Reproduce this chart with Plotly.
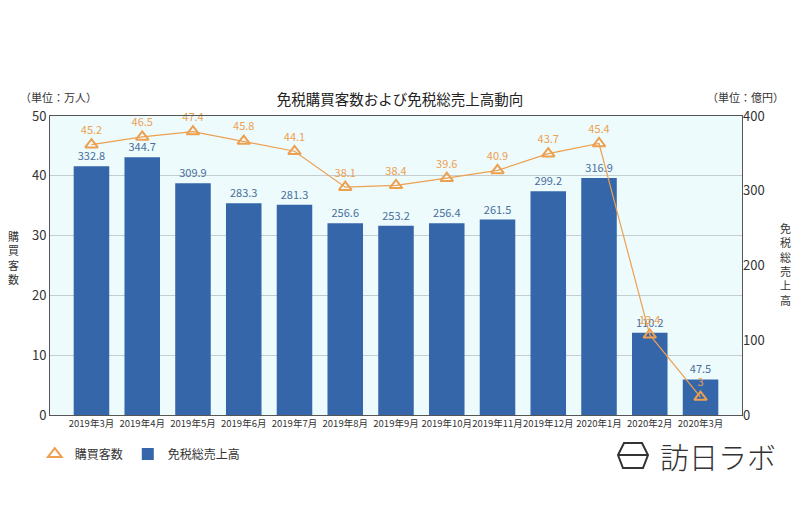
import plotly.graph_objects as go

months = ["2019年3月", "2019年4月", "2019年5月", "2019年6月", "2019年7月", "2019年8月",
          "2019年9月", "2019年10月", "2019年11月", "2019年12月", "2020年1月", "2020年2月", "2020年3月"]
sales = [332.8, 344.7, 309.9, 283.3, 281.3, 256.6, 253.2, 256.4, 261.5, 299.2, 316.9, 110.2, 47.5]
customers = [45.2, 46.5, 47.4, 45.8, 44.1, 38.1, 38.4, 39.6, 40.9, 43.7, 45.4, 13.4, 3]

FONT = "Noto Sans CJK JP, Noto Sans, sans-serif"
BAR = "#3566aa"
ORANGE = "#eda050"

W, H = 800, 522
L, R, T, B = 50, 742, 116, 415


def px(x):
    return (x - L) / (R - L)


def py(y):
    return (B - y) / (B - T)


fig = go.Figure()
# bars on the main (right-hand, 0-400) axis so the line overlay draws above them
fig.add_trace(go.Bar(
    x=months, y=sales, name="免税総売上高", yaxis="y", legendrank=2,
    marker=dict(color=BAR, line=dict(width=0)),
    text=[f"{v:g}" for v in sales], textposition="outside",
    textfont=dict(color="#4a6e9c", size=11), cliponaxis=False,
))
fig.add_trace(go.Scatter(
    x=months, y=customers, name="購買客数", yaxis="y2", mode="lines+markers+text", showlegend=False,
    line=dict(color=ORANGE, width=1.2),
    marker=dict(symbol="triangle-up-open", size=11, color=ORANGE, line=dict(width=2, color=ORANGE)),
    text=[f"{v:g}" for v in customers], textposition="top center",
    textfont=dict(color=ORANGE, size=11), cliponaxis=False,
))
# legend entry (marker only, as in the reference legend)
fig.add_trace(go.Scatter(
    x=[None], y=[None], name="購買客数", yaxis="y2", mode="markers", legendrank=1,
    marker=dict(symbol="triangle-up-open", size=9, color=ORANGE, line=dict(width=2, color=ORANGE)),
))

fig.update_layout(
    width=W, height=H,
    margin=dict(l=L, r=W - R, t=T, b=H - B),
    paper_bgcolor="white", plot_bgcolor="#edfbfd",
    font=dict(family=FONT, color="#333333"),
    bargap=0.3,
    showlegend=True,
    legend=dict(orientation="h", x=-0.022, y=-0.082, xanchor="left", yanchor="top",
                font=dict(size=12, color="#333"), itemsizing="constant"),
    xaxis=dict(showline=True, linecolor="#555", linewidth=1, mirror=True, automargin=False,
               tickangle=0, tickfont=dict(size=9.5, color="#333"), ticks="", showgrid=False),
    yaxis=dict(range=[0, 400], dtick=100, side="right", showgrid=False, showline=False,
               zeroline=False, automargin=False, tickfont=dict(size=13, color="#333")),
    yaxis2=dict(range=[0, 50], dtick=10, overlaying="y", side="left",
                showgrid=True, gridcolor="#c6cdd0", gridwidth=1,
                showline=True, linecolor="#555", mirror=True, zeroline=False, automargin=False,
                tickfont=dict(size=13, color="#333")),
    title=dict(text="免税購買客数および免税総売上高動向", x=0.5, xanchor="center",
               y=1 - 100 / H, yanchor="middle", font=dict(size=14.5, color="#222")),
)

annos = [
    dict(text="（単位：万人）", x=px(58), y=py(97), xanchor="center"),
    dict(text="（単位：億円）", x=px(745), y=py(97), xanchor="center"),
    dict(text="購<br>買<br>客<br>数", x=px(13), y=py(257), xanchor="center"),
    dict(text="免<br>税<br>総<br>売<br>上<br>高", x=px(786), y=py(264), xanchor="center"),
]
for a in annos:
    fig.add_annotation(xref="paper", yref="paper", showarrow=False, yanchor="middle",
                       font=dict(size=11, color="#333"), **a)

# logo
fig.add_annotation(xref="paper", yref="paper", x=px(718), y=py(456), showarrow=False,
                   text="訪日ラボ", font=dict(size=29, color="#333", weight=300),
                   xanchor="center", yanchor="middle")
pts = [(624, 443), (642, 443), (648, 455), (643, 468), (623, 468), (618, 455)]
path = "M " + " L ".join(f"{px(x)},{py(y)}" for x, y in pts) + " Z"
fig.add_shape(type="path", xref="paper", yref="paper", path=path,
              line=dict(color="#333", width=2))
fig.add_shape(type="line", xref="paper", yref="paper", x0=px(618), y0=py(455), x1=px(648), y1=py(455),
              line=dict(color="#333", width=2))

fig.write_html("out.html", config={"displayModeBar": False},
               post_script="document.body.style.margin='0';")
